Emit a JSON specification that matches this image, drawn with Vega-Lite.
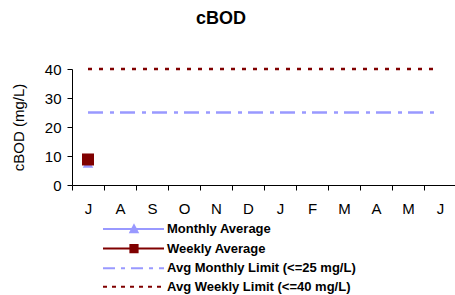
{
  "$schema": "https://vega.github.io/schema/vega-lite/v6.json",
  "autosize": {"type": "none"},
  "padding": {"left": 72, "top": 69, "right": 0, "bottom": 110},
  "width": 384,
  "height": 116,
  "background": "white",
  "config": {"view": {"stroke": null}, "font": "Liberation Sans"},
  "title": {"text": "cBOD", "fontSize": 18, "fontWeight": "bold", "font": "Liberation Sans", "color": "black", "anchor": "middle", "dx": -43, "offset": 34},
  "data": {"values": [
    {"series": "Monthly Average", "month": "Jul", "value": 7.5},
    {"series": "Weekly Average", "month": "Jul", "value": 8.8},
    {"series": "Avg Monthly Limit (<=25 mg/L)", "month": "Jul", "value": 25},
    {"series": "Avg Monthly Limit (<=25 mg/L)", "month": "Aug", "value": 25},
    {"series": "Avg Monthly Limit (<=25 mg/L)", "month": "Sep", "value": 25},
    {"series": "Avg Monthly Limit (<=25 mg/L)", "month": "Oct", "value": 25},
    {"series": "Avg Monthly Limit (<=25 mg/L)", "month": "Nov", "value": 25},
    {"series": "Avg Monthly Limit (<=25 mg/L)", "month": "Dec", "value": 25},
    {"series": "Avg Monthly Limit (<=25 mg/L)", "month": "Jan", "value": 25},
    {"series": "Avg Monthly Limit (<=25 mg/L)", "month": "Feb", "value": 25},
    {"series": "Avg Monthly Limit (<=25 mg/L)", "month": "Mar", "value": 25},
    {"series": "Avg Monthly Limit (<=25 mg/L)", "month": "Apr", "value": 25},
    {"series": "Avg Monthly Limit (<=25 mg/L)", "month": "May", "value": 25},
    {"series": "Avg Monthly Limit (<=25 mg/L)", "month": "Jun", "value": 25},
    {"series": "Avg Weekly Limit (<=40 mg/L)", "month": "Jul", "value": 40},
    {"series": "Avg Weekly Limit (<=40 mg/L)", "month": "Aug", "value": 40},
    {"series": "Avg Weekly Limit (<=40 mg/L)", "month": "Sep", "value": 40},
    {"series": "Avg Weekly Limit (<=40 mg/L)", "month": "Oct", "value": 40},
    {"series": "Avg Weekly Limit (<=40 mg/L)", "month": "Nov", "value": 40},
    {"series": "Avg Weekly Limit (<=40 mg/L)", "month": "Dec", "value": 40},
    {"series": "Avg Weekly Limit (<=40 mg/L)", "month": "Jan", "value": 40},
    {"series": "Avg Weekly Limit (<=40 mg/L)", "month": "Feb", "value": 40},
    {"series": "Avg Weekly Limit (<=40 mg/L)", "month": "Mar", "value": 40},
    {"series": "Avg Weekly Limit (<=40 mg/L)", "month": "Apr", "value": 40},
    {"series": "Avg Weekly Limit (<=40 mg/L)", "month": "May", "value": 40},
    {"series": "Avg Weekly Limit (<=40 mg/L)", "month": "Jun", "value": 40}
  ]},
  "encoding": {
    "x": {
      "field": "month", "type": "ordinal",
      "sort": ["Jul", "Aug", "Sep", "Oct", "Nov", "Dec", "Jan", "Feb", "Mar", "Apr", "May", "Jun"],
      "scale": {"domain": ["Jul", "Aug", "Sep", "Oct", "Nov", "Dec", "Jan", "Feb", "Mar", "Apr", "May", "Jun"], "paddingInner": 0, "paddingOuter": 0},
      "axis": {"title": null, "labelExpr": "isString(datum.value) ? substring(datum.value,0,1) : ''", "tickBand": "extent", "tickSize": 5, "labelPadding": 11, "labelFontSize": 15, "labelColor": "black", "labelFont": "Liberation Sans", "domainColor": "black", "tickColor": "black", "labelAngle": 0}
    },
    "y": {
      "field": "value", "type": "quantitative",
      "scale": {"domain": [0, 40], "nice": false},
      "axis": {"title": "cBOD (mg/L)", "values": [0, 10, 20, 30, 40], "grid": false, "tickSize": 5, "labelPadding": 6, "labelFontSize": 15, "labelFont": "Liberation Sans", "titleFont": "Liberation Sans", "titleFontSize": 15, "titleFontWeight": "normal", "titlePadding": 18, "domainColor": "black", "tickColor": "black", "labelColor": "black", "titleColor": "black"}
    },
    "color": {
      "field": "series", "type": "nominal",
      "scale": {"domain": ["Monthly Average", "Weekly Average", "Avg Monthly Limit (<=25 mg/L)", "Avg Weekly Limit (<=40 mg/L)"], "range": ["#9999FF", "#800000", "#9999FF", "#800000"]},
      "legend": {
        "orient": "none", "legendX": 31, "legendY": 151, "title": null,
        "symbolSize": 256, "symbolStrokeWidth": 2, "labelOffset": 46, "rowPadding": 2.6, "padding": 0, "labelLimit": 400,
        "labelFont": "Liberation Sans", "labelFontWeight": "bold", "labelFontSize": 13, "labelColor": "black",
        "encode": {"symbols": {"update": {
          "shape": {"signal": "datum.value === 'Monthly Average' ? 'M-1.125,0H6.5M2.3,0.4L2.75,-0.45L3.2,0.4Z' : datum.value === 'Weekly Average' ? 'M-1.125,0H6.5M2.3,-0.45H3.2V0.45H2.3Z' : 'M-1.125,0H6.5'"},
          "fill": {"scale": "color", "field": "value"},
          "stroke": {"scale": "color", "field": "value"},
          "strokeWidth": {"value": 2},
          "opacity": {"value": 1},
          "strokeDash": {"signal": "datum.value === 'Avg Monthly Limit (<=25 mg/L)' ? [12,6,4,6] : datum.value === 'Avg Weekly Limit (<=40 mg/L)' ? [4,5] : [1,0]"}
        }}}
      }
    }
  },
  "layer": [
    {"transform": [{"filter": "datum.series === 'Avg Monthly Limit (<=25 mg/L)'"}], "mark": {"type": "line", "strokeDash": [15, 7, 4, 6], "strokeWidth": 2.5}},
    {"transform": [{"filter": "datum.series === 'Avg Weekly Limit (<=40 mg/L)'"}], "mark": {"type": "line", "strokeDash": [4, 7], "strokeWidth": 2.5}},
    {"transform": [{"filter": "datum.series === 'Monthly Average'"}], "mark": {"type": "point", "shape": "triangle-up", "size": 110, "filled": true, "opacity": 1}},
    {"transform": [{"filter": "datum.series === 'Weekly Average'"}], "mark": {"type": "point", "shape": "square", "size": 144, "filled": true, "opacity": 1}}
  ]
}
